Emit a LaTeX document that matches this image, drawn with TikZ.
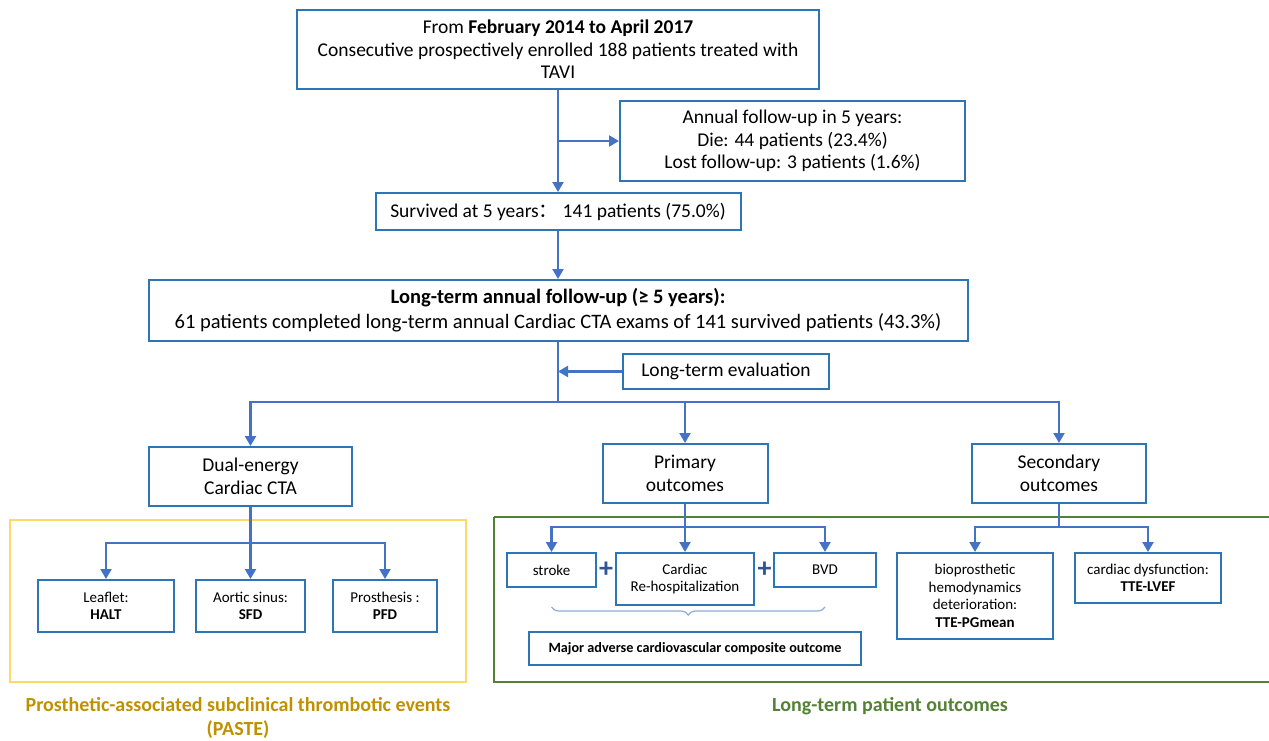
\documentclass[tikz,border=0pt]{standalone}
\usepackage{fontspec}
\setmainfont{Carlito}
\newfontfamily\cjk{Noto Sans CJK SC}
\usepackage{tikz}
\usetikzlibrary{arrows.meta, positioning, calc, decorations.pathreplacing}
\definecolor{flowblue}{HTML}{2E75B6}
\definecolor{linkblue}{HTML}{4472C4}
\definecolor{plusblue}{HTML}{2F5597}
\definecolor{bracelight}{HTML}{8FAADC}
\definecolor{pasteframe}{HTML}{FFD966}
\definecolor{pastetext}{HTML}{BF9000}
\definecolor{outframe}{HTML}{548235}
\definecolor{outtext}{HTML}{538135}

\begin{document}
\begin{tikzpicture}[
    x=1pt, y=-1pt,
    box/.style={rectangle, draw=flowblue, line width=2pt, align=center, inner sep=2pt, font=\fontsize{19.5}{22.5}\selectfont},
    smallbox/.style={box, font=\fontsize{15}{17.5}\selectfont},
    arrow/.style={-{Triangle[width=11pt,length=10pt]}, draw=linkblue, line width=2.2pt},
    link/.style={draw=linkblue, line width=2.2pt},
    label/.style={font=\fontsize{20}{24}\selectfont\bfseries, align=center}
]
\useasboundingbox (0,0) rectangle (1269,741);

% group frames
\draw[pasteframe, line width=2pt] (10,520) rectangle (466,682);
\draw[outframe, line width=2pt] (494,517) -- (1269,517);
\draw[outframe, line width=2pt] (494,517) -- (494,682) -- (1269,682);
\node[label, text=pastetext] (pastelbl) at (238,718) {Prosthetic-associated subclinical thrombotic events\\(PASTE)};
\node[label, text=outtext] (outlbl) at (890,706) {Long-term patient outcomes};

% study flow
\node[box, minimum width=522pt, minimum height=79pt] (start) at (558,49.5) {From \textbf{February 2014 to April 2017}\\Consecutive prospectively enrolled 188 patients treated with\\TAVI};
\node[box, minimum width=345pt, minimum height=80pt] (annual) at (792.5,141) {Annual follow-up in 5 years:\\Die: 44 patients (23.4\%)\\Lost follow-up: 3 patients (1.6\%)};
\node[box, minimum width=365pt, minimum height=37pt] (surv) at (558,211.5) {Survived at 5 years{\cjk ：} 141 patients (75.0\%)};
\node[box, font=\fontsize{20.5}{25}\selectfont, minimum width=819pt, minimum height=61pt] (longfu) at (558,310.5) {\textbf{Long-term annual follow-up (≥ 5 years):}\\61 patients completed long-term annual Cardiac CTA exams of 141 survived patients (43.3\%)};
\node[box, minimum width=206pt, minimum height=35pt] (eval) at (726,371.5) {Long-term evaluation};

\draw[arrow] (start.south) -- (surv.north);
\draw[arrow] (start.south |- annual.west) -- (annual.west);
\draw[arrow] (surv.south) -- (longfu.north);
\coordinate (split) at (558,402);
\draw[link] (longfu.south) -- (split);
\draw[arrow] (eval.west) -- (eval.west -| longfu.south);

% evaluation branches
\node[box, minimum width=203pt, minimum height=59pt] (dual) at (250.5,476.5) {Dual-energy\\Cardiac CTA};
\node[box, minimum width=165pt, minimum height=59pt] (prim) at (685,473.5) {Primary\\outcomes};
\node[box, minimum width=174pt, minimum height=59pt] (second) at (1059,473.5) {Secondary\\outcomes};

\draw[arrow] (split) -| (dual.north);
\draw[arrow] (split) -| (prim.north);
\draw[arrow] (split) -| (second.north);

% PASTE
\node[smallbox, minimum width=136pt, minimum height=52pt] (leaflet) at (106,606) {Leaflet:\\\textbf{HALT}};
\node[smallbox, minimum width=109pt, minimum height=52pt] (sinus) at (250.5,606) {Aortic sinus:\\\textbf{SFD}};
\node[smallbox, minimum width=104pt, minimum height=52pt] (prosth) at (385,606) {Prosthesis :\\\textbf{PFD}};
\coordinate (dsplit) at (250.5,543);
\draw[link] (dual.south) -- (dsplit);
\draw[arrow] (dsplit) -| (leaflet.north);
\draw[arrow] (dsplit) -- (sinus.north);
\draw[arrow] (dsplit) -| (prosth.north);

% primary outcomes
\node[smallbox, minimum width=89pt, minimum height=34pt] (stroke) at (551.5,570) {stroke};
\node[smallbox, minimum width=138pt, minimum height=52pt] (rehosp) at (685,579) {Cardiac\\Re-hospitalization};
\node[smallbox, minimum width=102pt, minimum height=34pt] (bvd) at (825,570) {BVD};
\node[font=\fontsize{28}{28}\selectfont\bfseries, text=plusblue] (plusa) at (606,570) {+};
\node[font=\fontsize{28}{28}\selectfont\bfseries, text=plusblue] (plusb) at (764.5,570) {+};
\node[smallbox, font=\fontsize{14.2}{17}\selectfont\bfseries, minimum width=332pt, minimum height=33pt] (mace) at (695,648.5) {Major adverse cardiovascular composite outcome};
\coordinate (pm) at (685,527);
\draw[link] (prim.south) -- (pm);
\draw[arrow] (pm) -| (stroke.north);
\draw[arrow] (pm) -- (rehosp.north);
\draw[arrow] (pm) -| (bvd.north);
\draw[bracelight, line width=1.2pt, decorate, decoration={brace, mirror, amplitude=8pt}] (551.5,607) -- (825,607);

% secondary outcomes
\node[smallbox, minimum width=156pt, minimum height=86pt] (bioprost) at (975,596) {bioprosthetic\\hemodynamics\\deterioration:\\\textbf{TTE-PGmean}};
\node[smallbox, minimum width=146pt, minimum height=50pt] (cardys) at (1148,578) {cardiac dysfunction:\\\textbf{TTE-LVEF}};
\coordinate (sm) at (1059,527);
\draw[link] (second.south) -- (sm);
\draw[arrow] (sm) -| (bioprost.north);
\draw[arrow] (sm) -| (cardys.north);

\end{tikzpicture}
\end{document}
